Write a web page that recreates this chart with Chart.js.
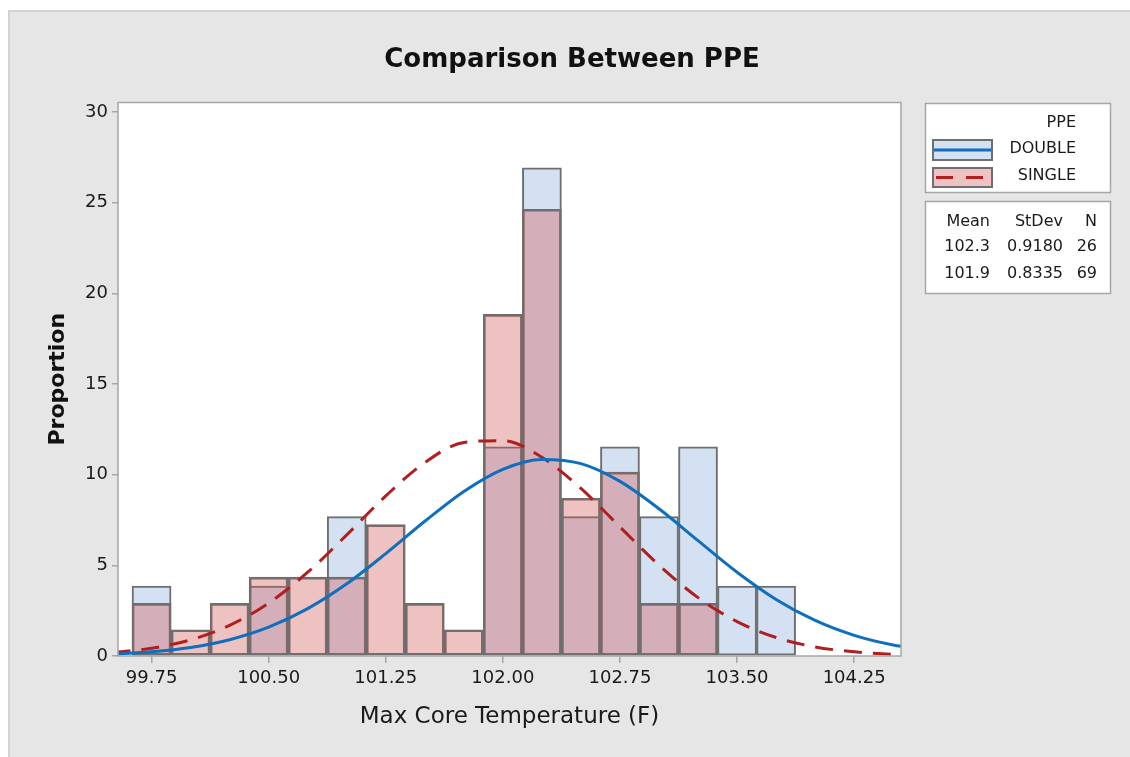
<!DOCTYPE html>
<html><head><meta charset="utf-8">
<script src="https://cdn.jsdelivr.net/npm/chart.js@4"></script>
<style>html,body{margin:0;padding:0;background:#fff;overflow:hidden}</style>
</head><body>
<canvas id="c" width="1130" height="757"></canvas>
<script>
// ---- data ----
const binCenters = [99.75, 100.00, 100.25, 100.50, 100.75, 101.00, 101.25, 101.50, 101.75, 102.00, 102.25, 102.50, 102.75, 103.00, 103.25, 103.50, 103.75];
const doubleProp = [3.85, 0, 0, 3.85, 0, 7.69, 0, 0, 0, 11.54, 26.92, 7.69, 11.54, 7.69, 11.54, 3.85, 3.85];
const singleProp = [2.90, 1.45, 2.90, 4.35, 4.35, 4.35, 7.25, 2.90, 1.45, 18.84, 24.64, 8.70, 10.14, 2.90, 2.90, 0, 0];

const curveX    = [99.5, 99.75, 100.0, 100.25, 100.5, 100.75, 101.0, 101.25, 101.5, 101.75, 102.0, 102.25, 102.5, 102.75, 103.0, 103.25, 103.5, 103.75, 104.0, 104.25, 104.5, 104.75];
const doubleFit = [0.10, 0.23, 0.47, 0.90, 1.59, 2.61, 3.98, 5.65, 7.43, 9.08, 10.30, 10.84, 10.61, 9.63, 8.12, 6.36, 4.62, 3.12, 1.96, 1.14, 0.61, 0.31];
const singleFit = [0.19, 0.43, 0.89, 1.69, 2.92, 4.62, 6.68, 8.83, 10.67, 11.78, 11.88, 10.96, 9.24, 7.12, 5.01, 3.22, 1.90, 1.02, 0.50, 0.23, 0.09, 0.03];

const xTickValues = [99.75, 100.50, 101.25, 102.00, 102.75, 103.50, 104.25];
const xTickLabels = ['99.75', '100.50', '101.25', '102.00', '102.75', '103.50', '104.25'];
const yTickValues = [0, 5, 10, 15, 20, 25, 30];

const seriesNames = ['DOUBLE', 'SINGLE'];
const legendTitle = 'PPE';
const statHeaders = ['Mean', 'StDev', 'N'];
const statMean  = ['102.3', '101.9'];
const statStDev = ['0.9180', '0.8335'];
const statN     = ['26', '69'];

const chartTitle = 'Comparison Between PPE';
const xTitle = 'Max Core Temperature (F)';
const yTitle = 'Proportion';

// ---- styling ----
const FONT = 'DejaVu Sans';
const TXT = '#1a1a1a';
const BLUE_FILL = '#d4e1f2';
const RED_FILL_ALPHA = 'rgba(212,90,90,0.37)';
const RED_FILL_SOLID = '#efc3c3';
const BAR_EDGE = '#6e6e6e';
const BLUE_LINE = '#0f6ebe';
const RED_LINE = '#b01f1f';

Chart.defaults.font.family = FONT;
Chart.defaults.color = TXT;

const toBars = (xs, ys) => xs.map((x, i) => ({x: x, y: ys[i] === 0 ? null : ys[i]}));
const toLine = (xs, ys) => xs.map((x, i) => ({x: x, y: ys[i]}));

const bgPlugin = {
  id: 'bg',
  beforeDraw(chart) {
    const c = chart.ctx, a = chart.chartArea;
    c.save();
    c.fillStyle = '#ffffff';
    c.fillRect(0, 0, chart.width, chart.height);
    c.fillStyle = '#e6e6e6';
    c.fillRect(8, 10, chart.width - 8, chart.height - 10);
    c.strokeStyle = '#d2d2d2';
    c.lineWidth = 2;
    c.beginPath();
    c.moveTo(9, chart.height); c.lineTo(9, 11); c.lineTo(chart.width, 11);
    c.stroke();
    c.fillStyle = '#ffffff';
    c.fillRect(a.left, a.top, a.right - a.left, a.bottom - a.top);
    c.restore();
  },
  afterDatasetsDraw(chart) {
    const c = chart.ctx, a = chart.chartArea;
    c.save();
    c.strokeStyle = '#a6a6a6';
    c.lineWidth = 1.5;
    c.strokeRect(a.left, a.top, a.right - a.left, a.bottom - a.top);
    c.restore();
  },
  afterDraw(chart) {
    const c = chart.ctx;
    c.save();
    // legend box
    c.fillStyle = '#ffffff';
    c.strokeStyle = '#a6a6a6';
    c.lineWidth = 1.5;
    c.fillRect(925.5, 103.5, 185, 89);
    c.strokeRect(925.5, 103.5, 185, 89);
    c.fillRect(925.5, 201.5, 185, 92);
    c.strokeRect(925.5, 201.5, 185, 92);

    c.fillStyle = TXT;
    c.font = '16px "' + FONT + '"';
    c.textAlign = 'right';
    c.textBaseline = 'middle';
    c.fillText(legendTitle, 1076, 123);
    c.fillText(seriesNames[0], 1076, 149);
    c.fillText(seriesNames[1], 1076, 176);

    // swatch DOUBLE
    c.fillStyle = BLUE_FILL;
    c.fillRect(933, 140, 59, 20);
    c.strokeStyle = BAR_EDGE; c.lineWidth = 2;
    c.strokeRect(933, 140, 59, 20);
    c.strokeStyle = BLUE_LINE; c.lineWidth = 3;
    c.beginPath(); c.moveTo(934, 150); c.lineTo(991, 150); c.stroke();
    // swatch SINGLE
    c.fillStyle = RED_FILL_SOLID;
    c.fillRect(933, 168, 59, 19);
    c.strokeStyle = BAR_EDGE; c.lineWidth = 2;
    c.strokeRect(933, 168, 59, 19);
    c.strokeStyle = RED_LINE; c.lineWidth = 3;
    c.setLineDash([17, 13]);
    c.beginPath(); c.moveTo(936, 177.5); c.lineTo(986, 177.5); c.stroke();
    c.setLineDash([]);

    // stats table
    c.fillStyle = TXT;
    c.font = '16px "' + FONT + '"';
    const cols = [990, 1063, 1097];
    statHeaders.forEach((h, i) => c.fillText(h, cols[i], 222));
    [0, 1].forEach(r => {
      const y = 247 + r * 26.5;
      c.fillText(statMean[r], cols[0], y);
      c.fillText(statStDev[r], cols[1], y);
      c.fillText(statN[r], cols[2], y);
    });
    c.restore();
  }
};

new Chart(document.getElementById('c'), {
  type: 'bar',
  data: {
    datasets: [
      {type: 'line', label: seriesNames[0] + ' fit', data: toLine(curveX, doubleFit), borderColor: BLUE_LINE, borderWidth: 3,
       pointRadius: 0, fill: false, cubicInterpolationMode: 'monotone', order: 1, clip: {left: 0, top: 0, right: 0, bottom: 2}},
      {type: 'line', label: seriesNames[1] + ' fit', data: toLine(curveX, singleFit), borderColor: RED_LINE, borderWidth: 3,
       borderDash: [18, 11], pointRadius: 0, fill: false, cubicInterpolationMode: 'monotone', order: 2, clip: {left: 0, top: 0, right: 0, bottom: 2}},
      {type: 'bar', label: seriesNames[1], data: toBars(binCenters, singleProp), backgroundColor: RED_FILL_ALPHA,
       borderColor: BAR_EDGE, borderWidth: 2, borderSkipped: false, barPercentage: 1, categoryPercentage: 1, grouped: false, order: 3},
      {type: 'bar', label: seriesNames[0], data: toBars(binCenters, doubleProp), backgroundColor: BLUE_FILL,
       borderColor: BAR_EDGE, borderWidth: 2, borderSkipped: false, barPercentage: 1, categoryPercentage: 1, grouped: false, order: 4}
    ]
  },
  options: {
    responsive: false,
    animation: false,
    events: [],
    layout: {padding: {left: 14, right: 0, top: 0, bottom: 0}},
    plugins: {
      legend: {display: false},
      tooltip: {enabled: false},
      title: {display: true, text: chartTitle, color: '#111',
              font: {family: FONT, size: 26, weight: 'bold', lineHeight: 1.2},
              padding: {top: 44.4, bottom: 26.9}}
    },
    scales: {
      x: {
        type: 'linear', position: 'bottom', min: 99.535, max: 104.55, offset: false,
        afterBuildTicks: s => { s.ticks = xTickValues.map(v => ({value: v})); },
        afterFit: s => { s.height = 101; },
        ticks: {callback: (v, i) => xTickLabels[i], font: {size: 18}, color: TXT, padding: 5, maxRotation: 0, autoSkip: false},
        grid: {display: true, drawOnChartArea: false, drawTicks: true, tickLength: 7, color: '#a6a6a6', lineWidth: 1.5, offset: false},
        border: {display: false},
        title: {display: true, text: xTitle, color: TXT, font: {size: 23, lineHeight: 1.2}, padding: {top: 0, bottom: 26.2}}
      },
      y: {
        type: 'linear', position: 'left', min: 0, max: 30.53,
        afterBuildTicks: s => { s.ticks = yTickValues.map(v => ({value: v})); },
        afterFit: s => { s.width = 104; },
        ticks: {font: {size: 18}, color: TXT, padding: 4},
        grid: {display: true, drawOnChartArea: false, drawTicks: true, tickLength: 6, color: '#a6a6a6', lineWidth: 1.5},
        border: {display: false},
        title: {display: true, text: yTitle, color: '#111', font: {size: 22, weight: 'bold', lineHeight: 1.2}, padding: {top: 30.8, bottom: 0}}
      },
      yR: {
        type: 'linear', position: 'right', display: true,
        afterFit: s => { s.width = 229; },
        ticks: {display: false},
        grid: {display: false, drawTicks: false},
        border: {display: false}
      }
    }
  },
  plugins: [bgPlugin]
});
</script>
</body></html>
